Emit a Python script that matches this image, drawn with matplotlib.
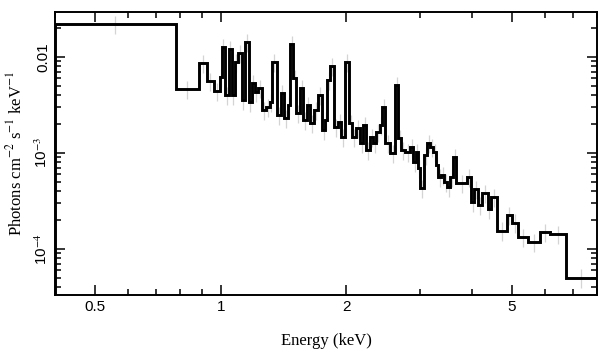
import numpy as np
import matplotlib.pyplot as plt
from matplotlib.ticker import FixedLocator, FixedFormatter, NullFormatter

# bin edges (keV) and model flux (photons cm^-2 s^-1 keV^-1)
edges = [0.40, 0.779, 0.885, 0.925, 0.962, 0.994, 1.006, 1.022, 1.045, 1.063,
         1.081, 1.099, 1.123, 1.142, 1.168, 1.187, 1.207, 1.228, 1.255, 1.283,
         1.312, 1.327, 1.364, 1.394, 1.418, 1.450, 1.466, 1.491, 1.516, 1.550,
         1.576, 1.611, 1.637, 1.674, 1.712, 1.750, 1.780, 1.799, 1.829, 1.871,
         1.912, 1.945, 1.988, 2.033, 2.067, 2.113, 2.161, 2.197, 2.234, 2.284,
         2.322, 2.361, 2.413, 2.440, 2.481, 2.551, 2.623, 2.667, 2.712, 2.772,
         2.850, 2.898, 2.947, 2.980, 3.013, 3.081, 3.132, 3.184, 3.237, 3.292,
         3.328, 3.384, 3.441, 3.498, 3.557, 3.617, 3.677, 3.909, 3.997, 4.064,
         4.155, 4.248, 4.368, 4.441, 4.615, 4.853, 4.989, 5.158, 5.450, 5.826,
         6.157, 6.729, 8.0]
flux = [2.21e-2, 4.64e-3, 8.66e-3, 5.62e-3, 4.42e-3, 6.19e-3, 1.27e-2, 4.02e-3, 1.21e-2, 4.02e-3,
        8.87e-3, 1.10e-2, 3.56e-3, 1.43e-2, 3.40e-3, 5.36e-3, 4.31e-3, 4.75e-3, 2.81e-3, 3.02e-3,
        3.40e-3, 8.87e-3, 2.49e-3, 4.22e-3, 2.32e-3, 3.16e-3, 1.37e-2, 6.04e-3, 2.61e-3, 4.75e-3,
        2.21e-3, 3.16e-3, 2.05e-3, 2.81e-3, 4.02e-3, 1.74e-3, 2.21e-3, 5.76e-3, 8.06e-3, 1.87e-3,
        2.10e-3, 1.47e-3, 8.87e-3, 2.05e-3, 1.47e-3, 1.82e-3, 1.27e-3, 1.96e-3, 1.07e-3, 1.47e-3,
        1.27e-3, 1.66e-3, 1.96e-3, 3.02e-3, 1.27e-3, 1.00e-3, 5.11e-3, 1.43e-3, 1.07e-3, 1.02e-3,
        1.15e-3, 8.06e-4, 1.02e-3, 6.98e-4, 4.32e-4, 9.53e-4, 1.27e-3, 1.15e-3, 1.02e-3, 7.50e-4,
        5.62e-4, 5.90e-4, 4.99e-4, 4.43e-4, 5.62e-4, 9.09e-4, 4.87e-4, 5.62e-4, 3.09e-4, 4.22e-4,
        2.87e-4, 3.83e-4, 2.61e-4, 3.48e-4, 1.54e-4, 2.26e-4, 1.87e-4, 1.33e-4, 1.18e-4, 1.50e-4,
        1.43e-4, 4.99e-5]
rel_err = 0.22

xticks = [0.5, 1, 2, 5]
xticklabels = ['0.5', '1', '2', '5']
yticks = [1e-4, 1e-3, 1e-2]
yticklabels = ['10$^{-4}$', '10$^{-3}$', '0.01']

plt.rcParams['mathtext.fontset'] = 'stix'

edges = np.array(edges)
flux = np.array(flux)
centers = np.sqrt(edges[:-1] * edges[1:])

fig = plt.figure(figsize=(6.09, 3.57), dpi=100)
ax = fig.add_axes([0.0903, 0.174, 0.8900, 0.792])

# data points (faint error bars) and the model histogram
ax.errorbar(centers, flux, yerr=rel_err * flux, fmt='none', ecolor='#d4d4d4',
            elinewidth=0.9, zorder=1)
ax.stairs(flux, edges, color='black', lw=2.1, zorder=2)

ax.set_xscale('log')
ax.set_yscale('log')
ax.set_xlim(0.40, 8.0)
ax.set_ylim(3.3e-5, 0.0294)

ax.xaxis.set_major_locator(FixedLocator(xticks))
ax.xaxis.set_major_formatter(FixedFormatter(xticklabels))
ax.xaxis.set_minor_locator(FixedLocator([0.4, 0.6, 0.7, 0.8, 0.9, 3, 4, 6, 7, 8]))
ax.xaxis.set_minor_formatter(NullFormatter())
ax.yaxis.set_major_locator(FixedLocator(yticks))
ax.yaxis.set_major_formatter(FixedFormatter(yticklabels))
ax.yaxis.set_minor_formatter(NullFormatter())

ax.tick_params(which='both', direction='in', top=True, right=True, width=1.1)
ax.tick_params(which='major', length=7, labelsize=11)
ax.tick_params(which='minor', length=4)
for lab in ax.get_xticklabels() + ax.get_yticklabels():
    lab.set_fontfamily('Liberation Sans')
plt.setp(ax.get_yticklabels(), rotation=90, va='center')
for s in ax.spines.values():
    s.set_linewidth(1.4)

ax.set_xlabel('Energy (keV)', fontfamily='Liberation Serif', fontsize=12, labelpad=14)
ax.set_ylabel('Photons cm$^{-2}$ s$^{-1}$ keV$^{-1}$', fontfamily='Liberation Serif',
              fontsize=12, labelpad=6)

fig.savefig('out.png', dpi=100)
